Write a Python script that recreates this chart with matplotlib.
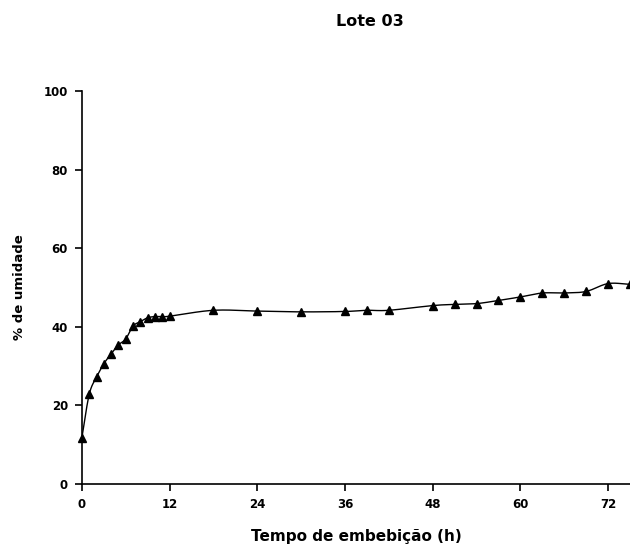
import numpy as np
import matplotlib
matplotlib.use("Agg")
import matplotlib.pyplot as plt

plt.rcParams['font.family'] = ['DejaVu Sans']

# Lote 03 - imbibition curve
tempo = [0, 1, 2, 3, 4, 5, 6, 7, 8, 9, 10, 11, 12,
         18, 24, 30, 36, 39, 42, 48, 51, 54, 57, 60, 63, 66, 69, 72, 75]
umidade = [11.8, 22.8, 27.2, 30.6, 33.1, 35.4, 36.9, 40.2, 41.3, 42.3, 42.6, 42.6, 42.7,
           44.2, 44.0, 43.8, 43.9, 44.2, 44.2, 45.4, 45.7, 45.9, 46.7, 47.6, 48.6, 48.6, 49.0, 51.0, 50.8]
xticks = [0, 12, 24, 36, 48, 60, 72]
yticks = [0, 20, 40, 60, 80, 100]


def smooth(x, y, n=20):
    # Excel-like smoothed line (Catmull-Rom through the points)
    x = np.asarray(x, float)
    y = np.asarray(y, float)
    px = np.concatenate([[2 * x[0] - x[1]], x, [2 * x[-1] - x[-2]]])
    py = np.concatenate([[2 * y[0] - y[1]], y, [2 * y[-1] - y[-2]]])
    xs, ys = [], []
    t = np.linspace(0, 1, n)
    for i in range(1, len(px) - 2):
        for p, out in ((px, xs), (py, ys)):
            p0, p1, p2, p3 = p[i - 1], p[i], p[i + 1], p[i + 2]
            seg = 0.5 * ((2 * p1) + (-p0 + p2) * t + (2 * p0 - 5 * p1 + 4 * p2 - p3) * t ** 2
                         + (-p0 + 3 * p1 - 3 * p2 + p3) * t ** 3)
            out.extend(seg)
    return np.array(xs), np.array(ys)


fig = plt.figure(figsize=(6.3, 5.47), dpi=100)
ax = fig.add_axes([0.130, 0.1152, 0.870, 0.7184])

sx, sy = smooth(tempo, umidade)
ax.plot(sx, sy, color='black', lw=1.0)
ax.plot(tempo, umidade, ls='none', marker='^', ms=5.5, color='black', clip_on=False)

ax.set_xlim(0, 75)
ax.set_ylim(0, 100)
ax.set_xticks(xticks)
ax.set_yticks(yticks)
for s in ['top', 'right']:
    ax.spines[s].set_visible(False)
for s in ['left', 'bottom']:
    ax.spines[s].set_linewidth(1.2)
ax.tick_params(direction='out', length=5, width=1.2, labelsize=8.5, pad=5)
for lab in ax.get_xticklabels() + ax.get_yticklabels():
    lab.set_fontweight('bold')

ax.set_xlabel('Tempo de embebição (h)', fontsize=11, fontweight='bold', labelpad=13)
ax.set_ylabel('% de umidade', fontsize=9.5, fontweight='bold', labelpad=13)
fig.text(0.587, 0.96, 'Lote 03', ha='center', va='center', fontsize=11.5, fontweight='bold')

fig.savefig('out.png', dpi=100)
